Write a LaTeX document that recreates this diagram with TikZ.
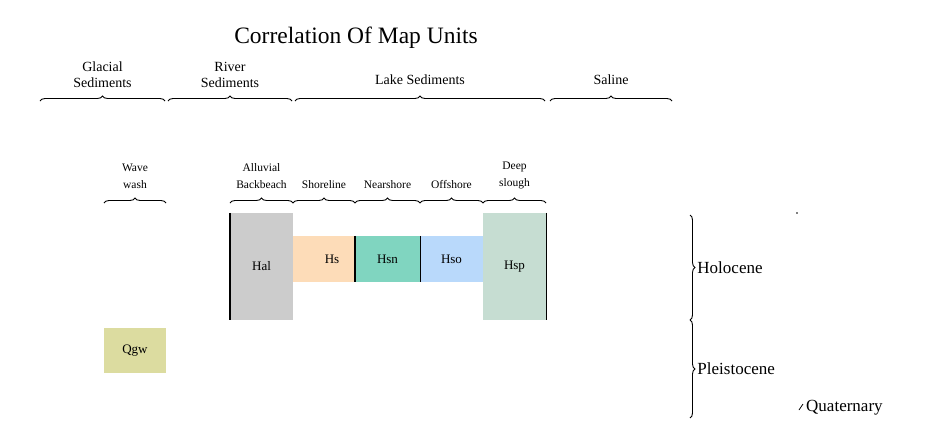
\documentclass[tikz,border=0pt]{standalone}
\usepackage{fontspec}
\setmainfont{Liberation Serif}
\usetikzlibrary{decorations.pathreplacing}
\begin{document}
\begin{tikzpicture}[x=1pt,y=-1pt,
  brc/.style={decorate,decoration={brace,amplitude=5pt},line width=0.9pt},
  lbl/.style={font=\fontsize{14}{16}\selectfont,align=center,inner sep=1pt},
  sublbl/.style={font=\fontsize{11.5}{17}\selectfont,align=center,inner sep=1pt},
  agelbl/.style={font=\fontsize{17}{18}\selectfont,inner sep=1pt},
  unitbox/.style={draw=none,inner sep=0pt,font=\fontsize{13}{14}\selectfont},
  edge/.style={line width=1.4pt}]
\useasboundingbox (0,0) rectangle (931,421);
\fill[white] (0,0) rectangle (931,421);
\definecolor{cHal}{HTML}{CCCCCC}
\definecolor{cHs}{HTML}{FDDCB8}
\definecolor{cHsn}{HTML}{80D5C0}
\definecolor{cHso}{HTML}{B9D9FB}
\definecolor{cHsp}{HTML}{C6DDD2}
\definecolor{cQgw}{HTML}{DCDCA0}

\node[font=\fontsize{23.5}{24}\selectfont] (title) at (356,38) {Correlation Of Map Units};

% top row braces
\coordinate (g1) at (40,101); \coordinate (g2) at (165,101);
\coordinate (r1) at (168,101); \coordinate (r2) at (292,101);
\coordinate (l1) at (295,101); \coordinate (l2) at (545,101);
\coordinate (s1) at (550,101); \coordinate (s2) at (672,101);
\draw[brc] (g1) -- (g2) node[midway,above=12pt,lbl] (glac) {Glacial\\Sediments};
\draw[brc] (r1) -- (r2) node[midway,above=12pt,lbl] (riv) {River\\Sediments};
\draw[brc] (l1) -- (l2) node[midway,above=15pt,lbl] (lake) {Lake Sediments};
\draw[brc] (s1) -- (s2) node[midway,above=15pt,lbl] (sal) {Saline};

% second row braces
\coordinate (w1) at (104,203); \coordinate (w2) at (166,203);
\coordinate (a1) at (230,203); \coordinate (a2) at (293,203);
\coordinate (a3) at (355,203); \coordinate (a4) at (420,203);
\coordinate (a5) at (483,203); \coordinate (a6) at (546,203);
\draw[brc] (w1) -- (w2) node[midway,above=13pt,sublbl] (wave) {Wave\\wash};
\draw[brc] (a1) -- (a2) node[midway,above=13pt,sublbl] (allu) {Alluvial\\Backbeach};
\draw[brc] (a2) -- (a3) node[midway,above=13pt,sublbl] (shore) {Shoreline};
\draw[brc] (a3) -- (a4) node[midway,above=13pt,sublbl] (near) {Nearshore};
\draw[brc] (a4) -- (a5) node[midway,above=13pt,sublbl] (off) {Offshore};
\draw[brc] (a5) -- (a6) node[midway,above=13pt,sublbl] (deep) {Deep\\slough};

% unit boxes
\node[unitbox,fill=cHal,minimum width=63pt,minimum height=107pt] (hal) at (261.5,266.5) {Hal};
\node[unitbox,fill=cHs,minimum width=62pt,minimum height=46pt] (hs) at (324,259) {\hspace{16pt}Hs};
\node[unitbox,fill=cHsn,minimum width=65pt,minimum height=46pt] (hsn) at (387.5,259) {Hsn};
\node[unitbox,fill=cHso,minimum width=63pt,minimum height=46pt] (hso) at (451.5,259) {Hso};
\node[unitbox,fill=cHsp,minimum width=63pt,minimum height=107pt] (hsp) at (514.5,266.5) {Hsp};
\draw[edge] (hal.north west) -- (hal.south west);
\draw[edge] (hsp.north east) -- (hsp.south east);
\draw[edge] (hsn.north west) -- (hsn.south west);
\draw[edge] (hsn.north east) -- (hsn.south east);

\node[unitbox,fill=cQgw,minimum width=62pt,minimum height=45pt] (qgw) at (135,350.5) {Qgw};

% time braces
\coordinate (h1) at (690,215); \coordinate (h2) at (690,320);
\coordinate (p1) at (690,320); \coordinate (p2) at (690,418);
\draw[brc] (h1) -- (h2) node[midway,right=6pt,agelbl] (holo) {Holocene};
\draw[brc] (p1) -- (p2) node[midway,right=6pt,agelbl] (pleis) {Pleistocene};
\coordinate (q0) at (797,213);
\coordinate (qt) at (803,404);
\fill (q0) circle (0.8pt);
\node[agelbl,anchor=west] (quat) at (805,408) {Quaternary};
\draw[line width=0.8pt] (qt) -- ++(-4,6);
\end{tikzpicture}
\end{document}
